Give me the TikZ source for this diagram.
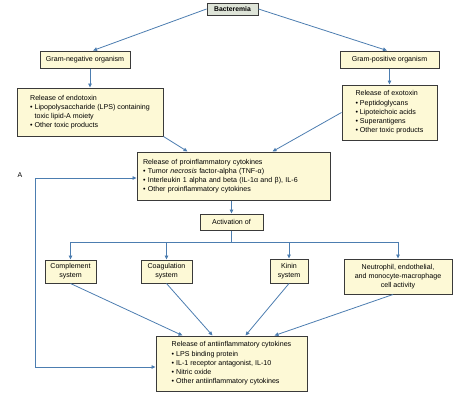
\documentclass[tikz,border=0pt]{standalone}
\usepackage{fontspec}
\setmainfont{Liberation Sans}
\usetikzlibrary{arrows.meta,calc}
\definecolor{boxfill}{HTML}{FDF9D6}
\definecolor{bactfill}{HTML}{DEE4D8}
\definecolor{boxc}{HTML}{3A3A3A}
\definecolor{arrc}{HTML}{4C7DB0}
\tikzset{
  box/.style={draw=boxc, fill=boxfill, line width=1pt, inner sep=0pt, align=center,
    font=\fontsize{7.1}{9.2}\selectfont},
  listbox/.style={box, align=left},
  conn/.style={draw=arrc, line width=0.8pt, -{Triangle[length=4pt,width=3.5pt]}},
  conn2/.style={draw=arrc, line width=0.8pt, {Triangle[length=4pt,width=3.5pt]}-{Triangle[length=4pt,width=3.5pt]}},
  plain/.style={draw=arrc, line width=0.8pt}
}
\newcommand{\bul}{\textbullet\ }
\begin{document}
\begin{tikzpicture}[x=1pt,y=-1pt]
\useasboundingbox (0,0) rectangle (474,402);
% nodes
\node[box, fill=bactfill, minimum width=51, minimum height=12, font=\fontsize{6.8}{8}\selectfont\bfseries] (bact) at (232.5,9) {Bacteremia};
\node[box, minimum width=90, minimum height=17] (gneg) at (85,59.5) {Gram-negative organism};
\node[box, minimum width=99, minimum height=17] (gpos) at (389.5,59.5) {Gram-positive organism};
\node[listbox, minimum width=146, minimum height=48] (endo) at (90,112) {Release of endotoxin\\\bul Lipopolysaccharide (LPS) containing\\\hphantom{\bul}toxic lipid-A moiety\\\bul Other toxic products};
\node[listbox, minimum width=95, minimum height=55] (exo) at (389.5,112.5) {Release of exotoxin\\\bul Peptidoglycans\\\bul Lipoteichoic acids\\\bul Superantigens\\\bul Other toxic products};
\node[listbox, inner xsep=6pt, text width=181pt, minimum height=48] (pro) at (233.5,176) {Release of proinflammatory cytokines\\\bul Tumor \textit{necrosis} factor-alpha (TNF-α)\\\bul Interleukin 1 alpha and beta (IL-1α and β), IL-6\\\bul Other proinflammatory cytokines};
\node[box, minimum width=63, minimum height=16] (act) at (231.5,222) {Activation of};
\node[box, minimum width=51, minimum height=23] (comp) at (70.5,271.5) {Complement\\system};
\node[box, minimum width=51, minimum height=23] (coag) at (166.5,271.5) {Coagulation\\system};
\node[box, minimum width=38, minimum height=24] (kinin) at (289,271) {Kinin\\system};
\node[box, minimum width=108, minimum height=35] (neut) at (398,276.5) {Neutrophil, endothelial,\\and monocyte-macrophage\\cell activity};
\node[listbox, minimum width=151, minimum height=55] (anti) at (231.5,363.5) {Release of antiinflammatory cytokines\\\bul LPS binding protein\\\bul IL-1 receptor antagonist, IL-10\\\bul Nitric oxide\\\bul Other antiinflammatory cytokines};
\node[font=\fontsize{7}{8}\selectfont, inner sep=0pt] (lblA) at (20,175) {A};
% connectors
\draw[conn] (bact.west) -- ($(gneg.north)+(8,0)$);
\draw[conn] (bact.east) -- ($(gpos.north)+(-2.5,0)$);
\draw[conn] (gneg.south -| endo.north) -- (endo.north);
\draw[conn] (gpos.south) -- (exo.north);
\draw[conn] (endo.south east) -- ($(pro.north west)+(51,0)$);
\draw[conn] (exo.west) -- ($(pro.north west)+(136,0)$);
\draw[conn] (pro.south -| act.north) -- (act.north);
\coordinate (hb) at (231.5,242);
\draw[plain] (act.south) -- (hb);
\draw[plain] (hb -| comp.north) -- (hb -| neut.north);
\draw[conn] (hb -| comp.north) -- (comp.north);
\draw[conn] (hb -| coag.north) -- (coag.north);
\draw[conn] (hb -| kinin.north) -- (kinin.north);
\draw[conn] (hb -| neut.north) -- (neut.north);
\draw[conn] (comp.south) -- ($(anti.north west)+(27,0)$);
\draw[conn] (coag.south) -- ($(anti.north west)+(57,0)$);
\draw[conn] (kinin.south) -- ($(anti.north west)+(90,0)$);
\draw[conn] ($(neut.south)+(-5,0)$) -- ($(anti.north west)+(119,0)$);
\coordinate (fbtop) at (35,178);
\coordinate (fbbot) at (35,367);
\draw[conn2] (fbbot -| anti.west) -- (fbbot) -- (fbtop) -- (fbtop -| pro.west);
\end{tikzpicture}
\end{document}
